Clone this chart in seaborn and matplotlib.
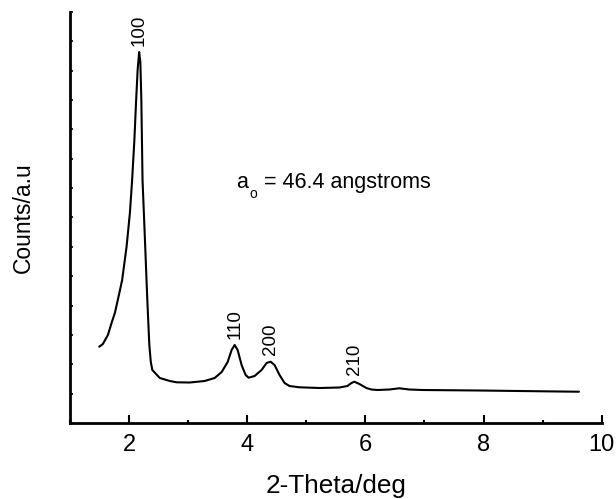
import matplotlib
matplotlib.use("Agg")
import numpy as np
import pandas as pd
import seaborn as sns
import matplotlib.pyplot as plt
from matplotlib.ticker import MultipleLocator, NullFormatter

# XRD pattern
two_theta = [1.495, 1.557, 1.642, 1.709, 1.760, 1.828, 1.883, 1.958, 2.014, 2.052,
             2.090, 2.120, 2.145, 2.171, 2.191, 2.208, 2.228, 2.267, 2.309, 2.343,
             2.368, 2.394, 2.520, 2.689, 2.807, 3.027, 3.280, 3.449, 3.568, 3.669,
             3.736, 3.787, 3.838, 3.905, 3.973, 4.024, 4.125, 4.243, 4.328, 4.395,
             4.463, 4.547, 4.632, 4.716, 4.885, 5.223, 5.561, 5.696, 5.764, 5.814,
             5.899, 6.017, 6.101, 6.203, 6.405, 6.574, 6.743, 6.963, 7.926, 8.601,
             9.277, 9.615]
counts = [2.599, 2.691, 2.997, 3.440, 3.747, 4.360, 4.871, 6.005, 7.153, 8.277,
          9.639, 11.001, 12.023, 12.636, 12.296, 11.001, 8.277, 6.335, 4.189, 2.657,
          2.078, 1.805, 1.533, 1.431, 1.386, 1.379, 1.431, 1.533, 1.737, 2.078,
          2.486, 2.657, 2.486, 1.975, 1.635, 1.543, 1.601, 1.805, 2.044, 2.088,
          1.975, 1.635, 1.362, 1.260, 1.216, 1.192, 1.209, 1.260, 1.362, 1.407,
          1.328, 1.192, 1.141, 1.124, 1.141, 1.182, 1.141, 1.124, 1.107, 1.090,
          1.073, 1.066]

peak_labels = ["100", "110", "200", "210"]
peak_x = [2.171, 3.787, 4.395, 5.814]
peak_y = [12.636, 2.657, 2.088, 1.407]

df = pd.DataFrame({"two_theta": two_theta, "counts": counts})

sns.set_style("ticks")
plt.rcParams["font.family"] = ["Liberation Sans", "DejaVu Sans"]
for key in ("text.color", "axes.labelcolor", "xtick.color", "ytick.color", "axes.edgecolor"):
    plt.rcParams[key] = "black"

fig = plt.figure(figsize=(6.16, 4.99), dpi=100)
ax = fig.add_axes([0.1136, 0.1523, 0.8632, 0.8237])
sns.lineplot(data=df, x="two_theta", y="counts", color="black", linewidth=1.5,
             sort=False, ax=ax)

for lab, px, py in zip(peak_labels, peak_x, peak_y):
    ax.annotate(lab, (px, py), xytext=(0, 4.5), textcoords="offset points",
                rotation=90, ha="center", va="bottom", fontsize=13.5)

# a_o = 46.4 angstroms, with a low subscript
ann_x, ann_y = 3.816, 8.0
t1 = ax.text(ann_x, ann_y, "a", fontsize=15.5, ha="left", va="baseline")
t2 = ax.annotate("o", xy=(1, ann_y), xycoords=(t1, "data"), xytext=(1, -7.2),
                 textcoords="offset points", fontsize=10, ha="left", va="baseline")
ax.annotate(" = 46.4 angstroms", xy=(1, ann_y), xycoords=(t2, "data"),
            xytext=(0.5, 0), textcoords="offset points", fontsize=15.5,
            ha="left", va="baseline")

ax.set_xlim(1, 10)
ax.set_ylim(0, 14)
ax.xaxis.set_major_locator(MultipleLocator(2))
ax.xaxis.set_minor_locator(MultipleLocator(1))
ax.yaxis.set_major_locator(MultipleLocator(1))
ax.yaxis.set_major_formatter(NullFormatter())
ax.tick_params(axis="x", which="major", direction="in", length=6, width=1.5,
               labelsize=17, pad=8)
ax.tick_params(axis="x", which="minor", direction="in", length=2.5, width=1.5)
ax.tick_params(axis="y", which="major", direction="in", length=2, width=1.2)

ax.set_xlabel("2-Theta/deg", fontsize=18.8, labelpad=13)
ax.set_ylabel("Counts/a.u", fontsize=16.5, labelpad=22)
sns.despine(ax=ax)
for s in ("left", "bottom"):
    ax.spines[s].set_linewidth(2)

fig.savefig("out.png", dpi=100)
